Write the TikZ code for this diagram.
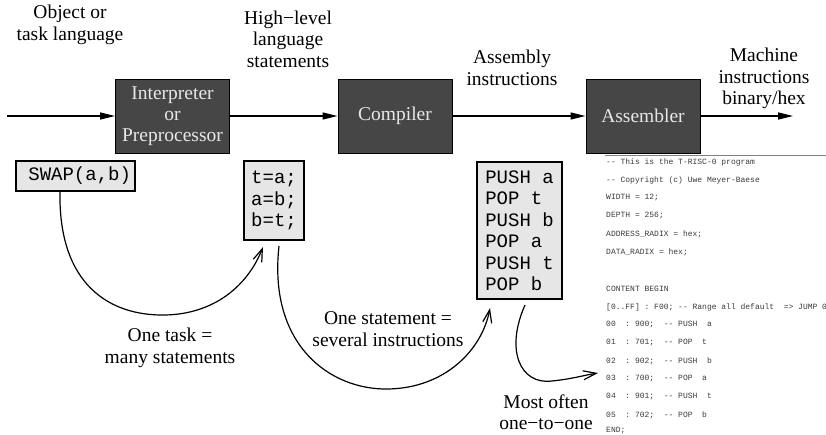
\documentclass[tikz,border=0pt]{standalone}
\usepackage{fontspec}
\setmainfont{Liberation Serif}
\setmonofont{Liberation Mono}
\usetikzlibrary{arrows.meta}
\definecolor{darkbox}{HTML}{464646}
\definecolor{lightbox}{HTML}{E6E6E6}
\definecolor{boxtext}{HTML}{E8E8E8}
\definecolor{listing}{HTML}{3A3A3A}
\tikzset{
  stage/.style={draw=black, line width=0.8pt, fill=darkbox, text=boxtext,
    minimum width=114pt, minimum height=74pt, inner sep=0pt, align=center,
    font=\fontsize{19.5}{21}\selectfont},
  codebox/.style={draw=black, line width=1.4pt, fill=lightbox, inner sep=0pt,
    font=\fontsize{19}{21.5}\ttfamily},
  lbl/.style={align=center, inner sep=0pt, font=\fontsize{19.5}{21.5}\selectfont},
  flow/.style={line width=1.4pt, -{Triangle[length=15pt,width=7pt]}},
  curvearrow/.style={line width=1.2pt, -{Straight Barb[length=13pt,width=9pt,line width=1.2pt]}},
  lst/.style={anchor=west, inner sep=0pt, text=listing, font=\fontsize{8}{9}\ttfamily},
}
\begin{document}
\begin{tikzpicture}[x=1pt,y=-1pt]
\useasboundingbox (0,0) rectangle (826,434);
\clip (0,0) rectangle (826,434);
% main flow
\coordinate (start) at (7,116);
\coordinate (out) at (793,116);
\node[stage] (interp) at (172.5,116) {Interpreter\\or\\Preprocessor};
\node[stage] (comp) at (395,116) {Compiler};
\node[stage] (asm) at (643,116) {Assembler};
\draw[flow] (start) -- (interp.west);
\draw[flow] (interp.east) -- (comp.west);
\draw[flow] (comp.east) -- (asm.west);
\draw[flow] (asm.east) -- (out);
% top labels
\node[lbl] (l1) at (70,25) {Object or\\task language};
\node[lbl] (l2) at (288,39) {High−level\\language\\statements};
\node[lbl] (l3) at (512,68) {Assembly\\instructions};
\node[lbl] (l4) at (764,78.5) {Machine\\instructions\\binary/hex};
% code boxes
\node[codebox, minimum width=119pt, minimum height=30pt, text width=111pt, align=right, inner xsep=4pt] (swap) at (75.5,176) {SWAP(a,b)};
\node[codebox, minimum width=60pt, minimum height=79pt, align=left] (hl) at (274,200.5) {t=a;\\a=b;\\b=t;};
\node[codebox, minimum width=85pt, minimum height=137pt, align=left] (push) at (519.5,230.5) {PUSH a\\POP t\\PUSH b\\POP a\\PUSH t\\POP b};
% listing
\coordinate (rulel) at (605,155);
\coordinate (ruler) at (826,155);
\draw[gray, line width=1pt] (rulel) -- (ruler);
\node[lst] (c1) at (606,162) {-- This is the T-RISC-0 program};
\node[lst] (c2) at (606,180) {-- Copyright (c) Uwe Meyer-Baese};
\node[lst] (c3) at (606,198) {WIDTH = 12;};
\node[lst] (c4) at (606,216) {DEPTH = 256;};
\node[lst] (c5) at (606,234) {ADDRESS\_RADIX = hex;};
\node[lst] (c6) at (606,252) {DATA\_RADIX = hex;};
\node[lst] (c7) at (606,289) {CONTENT BEGIN};
\node[lst] (c8) at (606,307) {[0..FF] : F00; -- Range all default\ \ => JUMP 0};
\node[lst] (c9) at (606,325) {00\ \ : 900;\ \ -- PUSH\ \ a};
\node[lst] (c10) at (606,343) {01\ \ : 701;\ \ -- POP\ \ t};
\node[lst] (c11) at (606,361) {02\ \ : 902;\ \ -- PUSH\ \ b};
\node[lst] (c12) at (606,379) {03\ \ : 700;\ \ -- POP\ \ a};
\node[lst] (c13) at (606,397) {04\ \ : 901;\ \ -- PUSH\ \ t};
\node[lst] (c14) at (606,415) {05\ \ : 702;\ \ -- POP\ \ b};
\node[lst] (c15) at (606,431) {END;};
% curved arrows
\coordinate (s1) at (60,191);
\coordinate (t1) at (263,247);
\coordinate (s2) at (279,246);
\coordinate (t2) at (490,308);
\coordinate (s3) at (525,305);
\coordinate (t3) at (598,373);
\draw[curvearrow] (s1) .. controls (58,285) and (110,316) .. (165,315)
  .. controls (215,314) and (248,285) .. (t1);
\draw[curvearrow] (s2) .. controls (268,345) and (330,390) .. (388,389)
  .. controls (445,388) and (482,350) .. (t2);
\draw[curvearrow] (s3) .. controls (505,350) and (520,385) .. (552,381)
  .. controls (572,379) and (585,375) .. (t3);
% bottom labels
\node[lbl] (b1) at (170,348) {One task =\\many statements};
\node[lbl] (b2) at (388,329) {One statement =\\several instructions};
\node[lbl] (b3) at (546,412) {Most often\\one−to−one};
\end{tikzpicture}
\end{document}
